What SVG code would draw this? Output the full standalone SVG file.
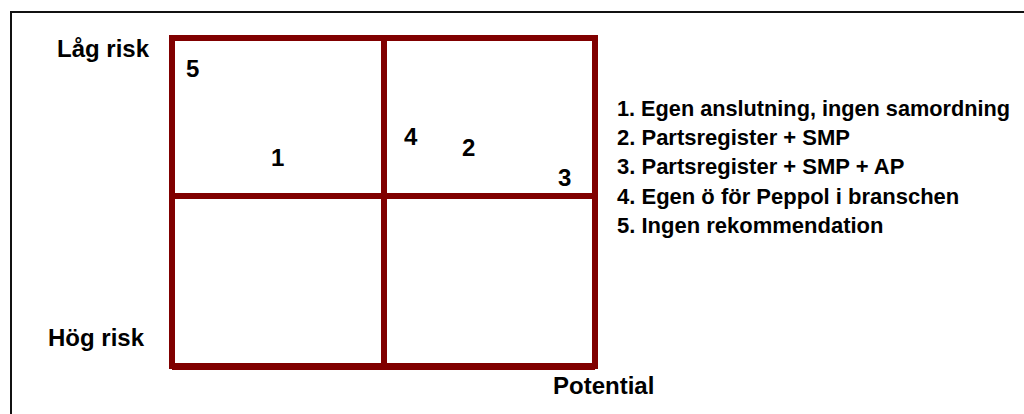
<svg xmlns="http://www.w3.org/2000/svg" width="1024" height="414" viewBox="0 0 1024 414">
<style>
.t{font-family:"Liberation Sans",Arial,sans-serif;font-weight:bold;fill:#000}
.lbl{font-size:24px}
.num{font-size:24px}
.leg{font-size:22px}
.g{stroke:#800000;stroke-width:6;fill:none}
</style>
<rect x="0" y="0" width="1024" height="414" fill="#fff"/>
<rect x="11" y="12" width="1100" height="500" fill="none" stroke="#111" stroke-width="2"/>
<g id="connectors">
<rect class="g" x="172" y="38" width="423" height="328"/>
<line class="g" x1="384" y1="38" x2="384" y2="366"/>
<line class="g" x1="172" y1="196" x2="595" y2="196"/>
<line class="g" x1="172" y1="367" x2="595" y2="367" stroke-width="7"/>
</g>
<g id="axis-labels">
<text class="t lbl" x="57" y="57">Låg risk</text>
<text class="t lbl" x="48" y="346">Hög risk</text>
<text class="t lbl" x="553" y="394">Potential</text>
</g>
<g id="n5"><text class="t num" x="186" y="77">5</text></g>
<g id="n1"><text class="t num" x="271" y="166">1</text></g>
<g id="n4"><text class="t num" x="404" y="145">4</text></g>
<g id="n2"><text class="t num" x="462" y="156">2</text></g>
<g id="n3"><text class="t num" x="558" y="186">3</text></g>
<g id="legend">
<text class="t leg" x="617" y="116" textLength="393" lengthAdjust="spacingAndGlyphs">1. Egen anslutning, ingen samordning</text>
<text class="t leg" x="617" y="145">2. Partsregister + SMP</text>
<text class="t leg" x="617" y="174">3. Partsregister + SMP + AP</text>
<text class="t leg" x="617" y="204">4. Egen ö för Peppol i branschen</text>
<text class="t leg" x="617" y="233">5. Ingen rekommendation</text>
</g>
</svg>
